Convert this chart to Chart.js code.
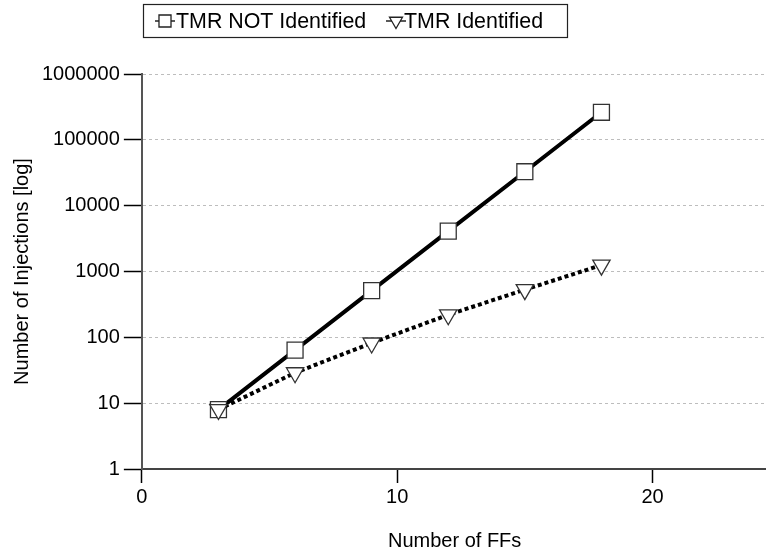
<!DOCTYPE html>
<html>
<head>
<meta charset="utf-8">
<script src="https://cdn.jsdelivr.net/npm/chart.js@4/dist/chart.umd.min.js"></script>
<style>
  html, body { margin: 0; padding: 0; background: #fff; overflow: hidden; }
  #wrap { width: 780px; height: 554px; }
</style>
</head>
<body>
<div id="wrap"><canvas id="c" width="780" height="554"></canvas></div>
<script>
const ffCounts = [3, 6, 9, 12, 15, 18];
const tmrNotIdentified = [8, 64, 512, 4096, 32768, 262144];
const tmrIdentified = [8, 29, 82, 220, 530, 1250];
const seriesLabels = ['TMR NOT Identified', 'TMR Identified'];
const xTicks = [0, 10, 20];
const yTicks = [1, 10, 100, 1000, 10000, 100000, 1000000];

const FONT = '"Liberation Sans", Arial, sans-serif';

function drawMarker(ctx, style, x, y, r) {
  ctx.save();
  ctx.fillStyle = '#fff';
  ctx.strokeStyle = '#222';
  ctx.lineWidth = 1.3;
  ctx.beginPath();
  if (style === 'rect') {
    const s = r * Math.SQRT1_2;
    ctx.rect(x - s, y - s, 2 * s, 2 * s);
  } else {
    const w = r * Math.sqrt(3) / 2;
    ctx.moveTo(x - w, y - r / 2);
    ctx.lineTo(x + w, y - r / 2);
    ctx.lineTo(x, y + r);
    ctx.closePath();
  }
  ctx.fill();
  ctx.stroke();
  ctx.restore();
}

const boxedLegend = {
  id: 'boxedLegend',
  afterDraw(chart) {
    const ctx = chart.ctx;
    ctx.save();
    ctx.strokeStyle = '#222';
    ctx.lineWidth = 1.2;
    ctx.strokeRect(143.5, 4.5, 424, 33);
    const items = [
      { x: 165, textX: 176, style: 'rect', r: 8.5 },
      { x: 396, textX: 404, style: 'triangle', r: 7.5 }
    ];
    const y = 21;
    items.forEach((it, i) => {
      ctx.strokeStyle = '#222';
      ctx.lineWidth = 1.5;
      ctx.beginPath();
      ctx.moveTo(it.x - 10, y); ctx.lineTo(it.x + 10, y);
      ctx.stroke();
      drawMarker(ctx, it.style, it.x, y, it.r);
      ctx.fillStyle = '#000';
      ctx.font = '21.4px ' + FONT;
      ctx.textBaseline = 'middle';
      ctx.textAlign = 'left';
      ctx.fillText(chart.data.datasets[i].label, it.textX, y + 1);
    });
    ctx.restore();
  }
};

new Chart(document.getElementById('c'), {
  type: 'line',
  data: {
    datasets: [
      {
        label: seriesLabels[0],
        data: ffCounts.map((x, i) => ({ x, y: tmrNotIdentified[i] })),
        borderColor: '#000',
        borderWidth: 4,
        pointStyle: 'rect',
        pointRadius: 11.3,
        pointBackgroundColor: '#fff',
        pointBorderColor: '#333',
        pointBorderWidth: 1.3,
        order: 2
      },
      {
        label: seriesLabels[1],
        data: ffCounts.map((x, i) => ({ x, y: tmrIdentified[i] })),
        borderColor: '#000',
        borderWidth: 4,
        borderDash: [4, 3],
        pointStyle: 'triangle',
        pointRotation: 180,
        pointRadius: 10,
        pointBackgroundColor: '#fff',
        pointBorderColor: '#333',
        pointBorderWidth: 1.3,
        order: 1
      }
    ]
  },
  options: {
    responsive: false,
    animation: false,
    devicePixelRatio: 1,
    layout: { padding: { top: 74, left: 10, right: 0, bottom: 1 } },
    plugins: {
      legend: { display: false },
      tooltip: { enabled: false }
    },
    scales: {
      x: {
        type: 'linear',
        min: 0,
        max: 24.5,
        afterBuildTicks: (s) => { s.ticks = xTicks.map(v => ({ value: v })); },
        ticks: { color: '#000', font: { family: FONT, size: 20 }, padding: 2, maxRotation: 0 },
        grid: { drawOnChartArea: false, tickLength: 14, tickColor: '#000', tickWidth: 1.5 },
        border: { color: '#444', width: 2 },
        title: { display: true, text: 'Number of FFs', color: '#000', font: { family: FONT, size: 20 }, padding: { top: 18, bottom: 0 } }
      },
      y: {
        type: 'logarithmic',
        min: 1,
        max: 1000000,
        afterBuildTicks: (s) => { s.ticks = yTicks.map(v => ({ value: v })); },
        ticks: { color: '#000', font: { family: FONT, size: 20 }, padding: 4, callback: (v) => String(v) },
        grid: { color: '#bdbdbd', lineWidth: 1, tickLength: 18, tickColor: '#000', tickWidth: 1.5, tickBorderDash: [] },
        border: { color: '#555', width: 2, dash: [3, 3] },
        title: { display: true, text: 'Number of Injections [log]', color: '#000', font: { family: FONT, size: 20 }, padding: { top: 0, bottom: 4 } }
      }
    }
  },
  plugins: [boxedLegend]
});
</script>
</body>
</html>
